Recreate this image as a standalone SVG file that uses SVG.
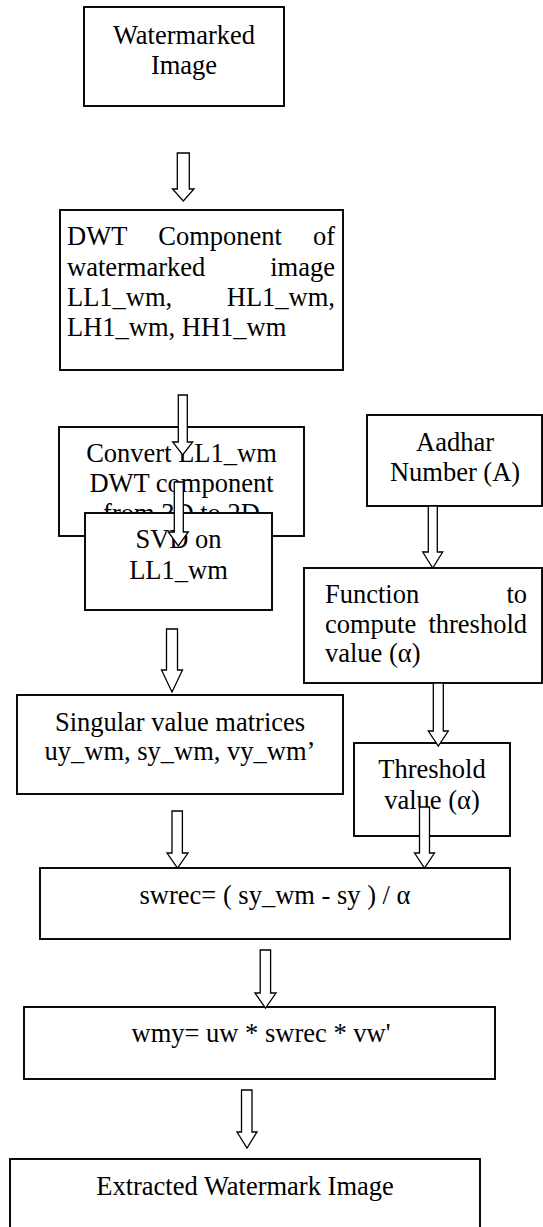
<svg xmlns="http://www.w3.org/2000/svg" width="543" height="1227" viewBox="0 0 543 1227">
<style>
.box{fill:#fff;stroke:#000;stroke-width:1.9}
.t{font-family:"Liberation Serif","Times New Roman",serif;font-size:26.5px;fill:#000}
.c{text-anchor:middle}
.e{text-anchor:end}
.arr{fill:#fff;stroke:#000;stroke-width:1.3;stroke-linejoin:miter}
</style>
<rect width="543" height="1227" fill="#fff"/>
<g id="n-watermarked">
<rect class="box" x="84" y="7" width="200" height="99"/>
<text class="t c" x="184" y="44">Watermarked</text>
<text class="t c" x="184" y="74">Image</text>
</g>
<g id="n-dwt">
<rect class="box" x="60" y="210" width="283" height="160"/>
<text class="t" x="67" y="245">DWT</text>
<text class="t" x="158.3" y="245">Component</text>
<text class="t e" x="335" y="245">of</text>
<text class="t" x="67" y="276">watermarked</text>
<text class="t e" x="335" y="276">image</text>
<text class="t" x="67" y="306">LL1_wm,</text>
<text class="t e" x="335" y="306">HL1_wm,</text>
<text class="t" x="67" y="336">LH1_wm, HH1_wm</text>
</g>
<g id="n-convert">
<rect class="box" x="59" y="427" width="245" height="109"/>
<text class="t c" x="181.5" y="462">Convert LL1_wm</text>
<text class="t c" x="181.5" y="492">DWT component</text>
<text class="t c" x="181.5" y="522">from 3D to 2D</text>
</g>
<g id="n-svd">
<rect class="box" x="85" y="513" width="187" height="97"/>
<text class="t c" x="178.5" y="548">SVD on</text>
<text class="t c" x="178.5" y="579">LL1_wm</text>
</g>
<g id="n-aadhar">
<rect class="box" x="367" y="415" width="175" height="91"/>
<text class="t c" x="455" y="451">Aadhar</text>
<text class="t c" x="455" y="481">Number (A)</text>
</g>
<g id="n-function">
<rect class="box" x="304" y="568" width="238" height="115"/>
<text class="t" x="325" y="603">Function</text>
<text class="t e" x="527" y="603">to</text>
<text class="t" x="325" y="633">compute</text>
<text class="t e" x="527" y="633">threshold</text>
<text class="t" x="325" y="662">value (α)</text>
</g>
<g id="n-singular">
<rect class="box" x="17" y="695" width="326" height="99"/>
<text class="t c" x="180" y="731">Singular value matrices</text>
<text class="t c" x="180" y="760">uy_wm, sy_wm, vy_wm’</text>
</g>
<g id="n-threshold">
<rect class="box" x="354" y="743" width="156" height="93"/>
<text class="t c" x="432" y="778">Threshold</text>
<text class="t c" x="432" y="809">value (α)</text>
</g>
<g id="n-swrec">
<rect class="box" x="40" y="868" width="470" height="71"/>
<text class="t c" x="275" y="904">swrec= ( sy_wm - sy ) / α</text>
</g>
<g id="n-wmy">
<rect class="box" x="24" y="1007" width="471" height="72"/>
<text class="t c" x="261" y="1042">wmy= uw * swrec * vw'</text>
</g>
<g id="n-extracted">
<rect class="box" x="10" y="1159" width="470" height="100"/>
<text class="t c" x="245" y="1195">Extracted Watermark Image</text>
</g>
<g id="connectors">
<polygon class="arr" points="177.3,153 189.3,153 189.3,189 194,189 183.3,201 172.5,189 177.3,189"/>
<polygon class="arr" points="178.3,395 187.3,395 187.3,442 192.7,442 182.7,455 172.7,442 178.3,442"/>
<polygon class="arr" points="174.3,482 183.3,482 183.3,532 188.3,532 178.3,546 168.3,532 174.3,532"/>
<polygon class="arr" points="166.5,629 177.5,629 177.5,670 182.5,670 172,692 161.5,670 166.5,670"/>
<polygon class="arr" points="428.3,506 437.3,506 437.3,552 442.7,552 432.7,568 422.7,552 428.3,552"/>
<polygon class="arr" points="433.3,683 443.3,683 443.3,731 448.3,731 438.3,746 428.3,731 433.3,731"/>
<polygon class="arr" points="419.5,807 429.5,807 429.5,853 434.5,853 424.5,868 414.5,853 419.5,853"/>
<polygon class="arr" points="172,811 182.4,811 182.4,853 188,853 177.5,868 167,853 172,853"/>
<polygon class="arr" points="260.2,950 270.6,950 270.6,993 276,993 265.5,1008 255,993 260.2,993"/>
<polygon class="arr" points="241.5,1090 252,1090 252,1132 257,1132 247,1148 237,1132 241.5,1132"/>
</g>
</svg>
